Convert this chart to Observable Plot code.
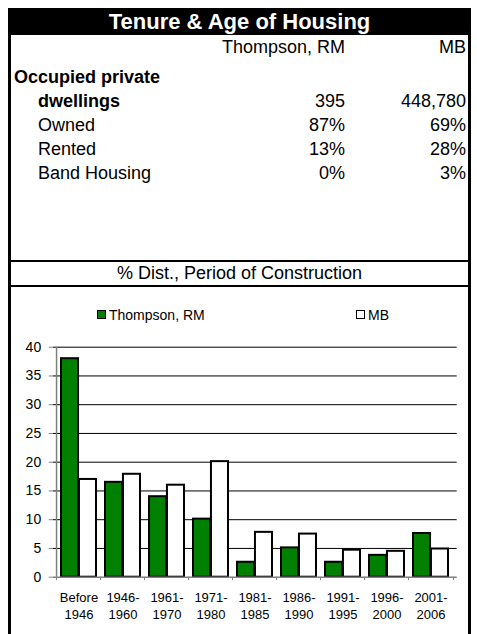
<!DOCTYPE html>
<html><head><meta charset="utf-8">
<script src="https://cdn.jsdelivr.net/npm/d3@7"></script>
<script src="https://cdn.jsdelivr.net/npm/@observablehq/plot@0.6"></script>
<style>
body{margin:0;background:#fff;font-family:"Liberation Sans",Arial,sans-serif;color:#000;}
#page{position:relative;width:477px;height:634px;overflow:hidden;}
.abs{position:absolute;white-space:nowrap;}
</style></head><body>
<div id="page"></div>
<script>
// ---- data ----
const titleText = "Tenure & Age of Housing";
const colHeads = ["Thompson, RM", "MB"];
const rowLabels = ["Occupied private", "dwellings", "Owned", "Rented", "Band Housing"];
const thompsonTable = ["", "395", "87%", "13%", "0%"];
const mbTable = ["", "448,780", "69%", "28%", "3%"];
const chartTitle = "% Dist., Period of Construction";
const periods = ["Before\n1946", "1946-\n1960", "1961-\n1970", "1971-\n1980", "1981-\n1985", "1986-\n1990", "1991-\n1995", "1996-\n2000", "2001-\n2006"];
const seriesNames = ["Thompson, RM", "MB"];
const thompson = [38, 16.5, 14, 10.1, 2.6, 5.1, 2.6, 3.8, 7.6];
const mb = [17, 17.9, 16, 20.1, 7.8, 7.5, 4.7, 4.5, 4.9];
const seriesColors = ["#008000", "#ffffff"];
const yTicks = [0, 5, 10, 15, 20, 25, 30, 35, 40];

// ---- layout ----
const page = document.getElementById("page");
function el(style, text, cls = "abs") {
  const d = document.createElement("div");
  d.className = cls;
  Object.assign(d.style, style);
  if (text != null) d.textContent = text;
  page.appendChild(d);
  return d;
}
// outer box
el({left: "8px", top: "9px", width: "457px", height: "640px", borderLeft: "3px solid #000", borderRight: "3px solid #000"});
// title bar
el({left: "8px", top: "8px", width: "463px", height: "27px", background: "#000", color: "#fff",
    font: "bold 22px 'Liberation Sans', Arial, sans-serif", lineHeight: "27px", textAlign: "center"}, titleText);

const fontT = "18px 'Liberation Sans', Arial, sans-serif";
const c1Right = 477 - 345, c2Right = 477 - 466;
// column heads
el({right: c1Right + "px", top: "35px", font: fontT, lineHeight: "24px"}, colHeads[0]);
el({right: c2Right + "px", top: "35px", font: fontT, lineHeight: "24px"}, colHeads[1]);
const rowTops = [65, 89, 113, 137, 161];
rowLabels.forEach((lab, i) => {
  const bold = i < 2;
  el({left: (i === 0 ? 14 : 38) + "px", top: rowTops[i] + "px", font: (bold ? "bold " : "") + fontT, lineHeight: "24px"}, lab);
  if (thompsonTable[i]) el({right: c1Right + "px", top: rowTops[i] + "px", font: fontT, lineHeight: "24px"}, thompsonTable[i]);
  if (mbTable[i]) el({right: c2Right + "px", top: rowTops[i] + "px", font: fontT, lineHeight: "24px"}, mbTable[i]);
});
// section lines and heading
el({left: "8px", top: "260px", width: "463px", height: "2px", background: "#000"});
el({left: "8px", top: "285px", width: "463px", height: "2px", background: "#000"});
el({left: "8px", top: "262px", width: "463px", font: fontT, lineHeight: "23px", textAlign: "center"}, chartTitle);

// legend
const legX = [97, 356];
seriesNames.forEach((s, i) => {
  el({left: legX[i] + "px", top: "310px", width: "7px", height: "7px", background: seriesColors[i], border: "1.5px solid #000"});
  el({left: (legX[i] + 12) + "px", top: "306px", font: "14px 'Liberation Sans', Arial, sans-serif", lineHeight: "18px"}, s);
});

// chart
const data = periods.flatMap((p, i) => [
  {period: p, series: seriesNames[0], value: thompson[i]},
  {period: p, series: seriesNames[1], value: mb[i]}
]);
const W = 457, H = 304, mL = 41.7, mR = 11.3;
const step = (W - mL - mR) / periods.length;
const bw = step * 0.8;
const chart = Plot.plot({
  width: W, height: H,
  marginLeft: mL, marginRight: mR, marginTop: 16.7, marginBottom: 57.3,
  style: {fontFamily: "'Liberation Sans', Arial, sans-serif", background: "transparent", color: "#000", overflow: "visible"},
  x: {domain: periods, paddingInner: 0.2, paddingOuter: 0.1},
  y: {domain: [0, 40]},
  marks: [
    Plot.ruleY(yTicks.filter(d => d > 0), {stroke: "#000", strokeWidth: 1}),
    Plot.barY(data.filter(d => d.series === seriesNames[0]), {x: "period", y: "value", fill: seriesColors[0], stroke: "#000", strokeWidth: 2, insetRight: bw / 2}),
    Plot.barY(data.filter(d => d.series === seriesNames[1]), {x: "period", y: "value", fill: seriesColors[1], stroke: "#000", strokeWidth: 2, insetLeft: bw / 2}),
    Plot.ruleY([0], {stroke: "#808080", strokeWidth: 1.5}),
    Plot.ruleX([periods[0]], {x: d => d, y1: 0, y2: 40, dx: -step / 2, stroke: "#808080", strokeWidth: 1.5}),
    Plot.ruleX(periods, {x: d => d, y1: 0, y2: -0.6, dx: -step / 2, stroke: "#808080"}),
    Plot.ruleX([periods[periods.length - 1]], {x: d => d, y1: 0, y2: -0.6, dx: step / 2, stroke: "#808080"}),
    Plot.axisY({ticks: yTicks, tickSize: 4, tickPadding: 8, fontSize: 14, stroke: "#808080", label: null}),
    Plot.axisX({tickSize: 0, tickPadding: 12, fontSize: 13, lineHeight: 1.36, label: null})
  ]
});
const holder = el({left: "11px", top: "330px"});
holder.appendChild(chart);
</script>
</body></html>
